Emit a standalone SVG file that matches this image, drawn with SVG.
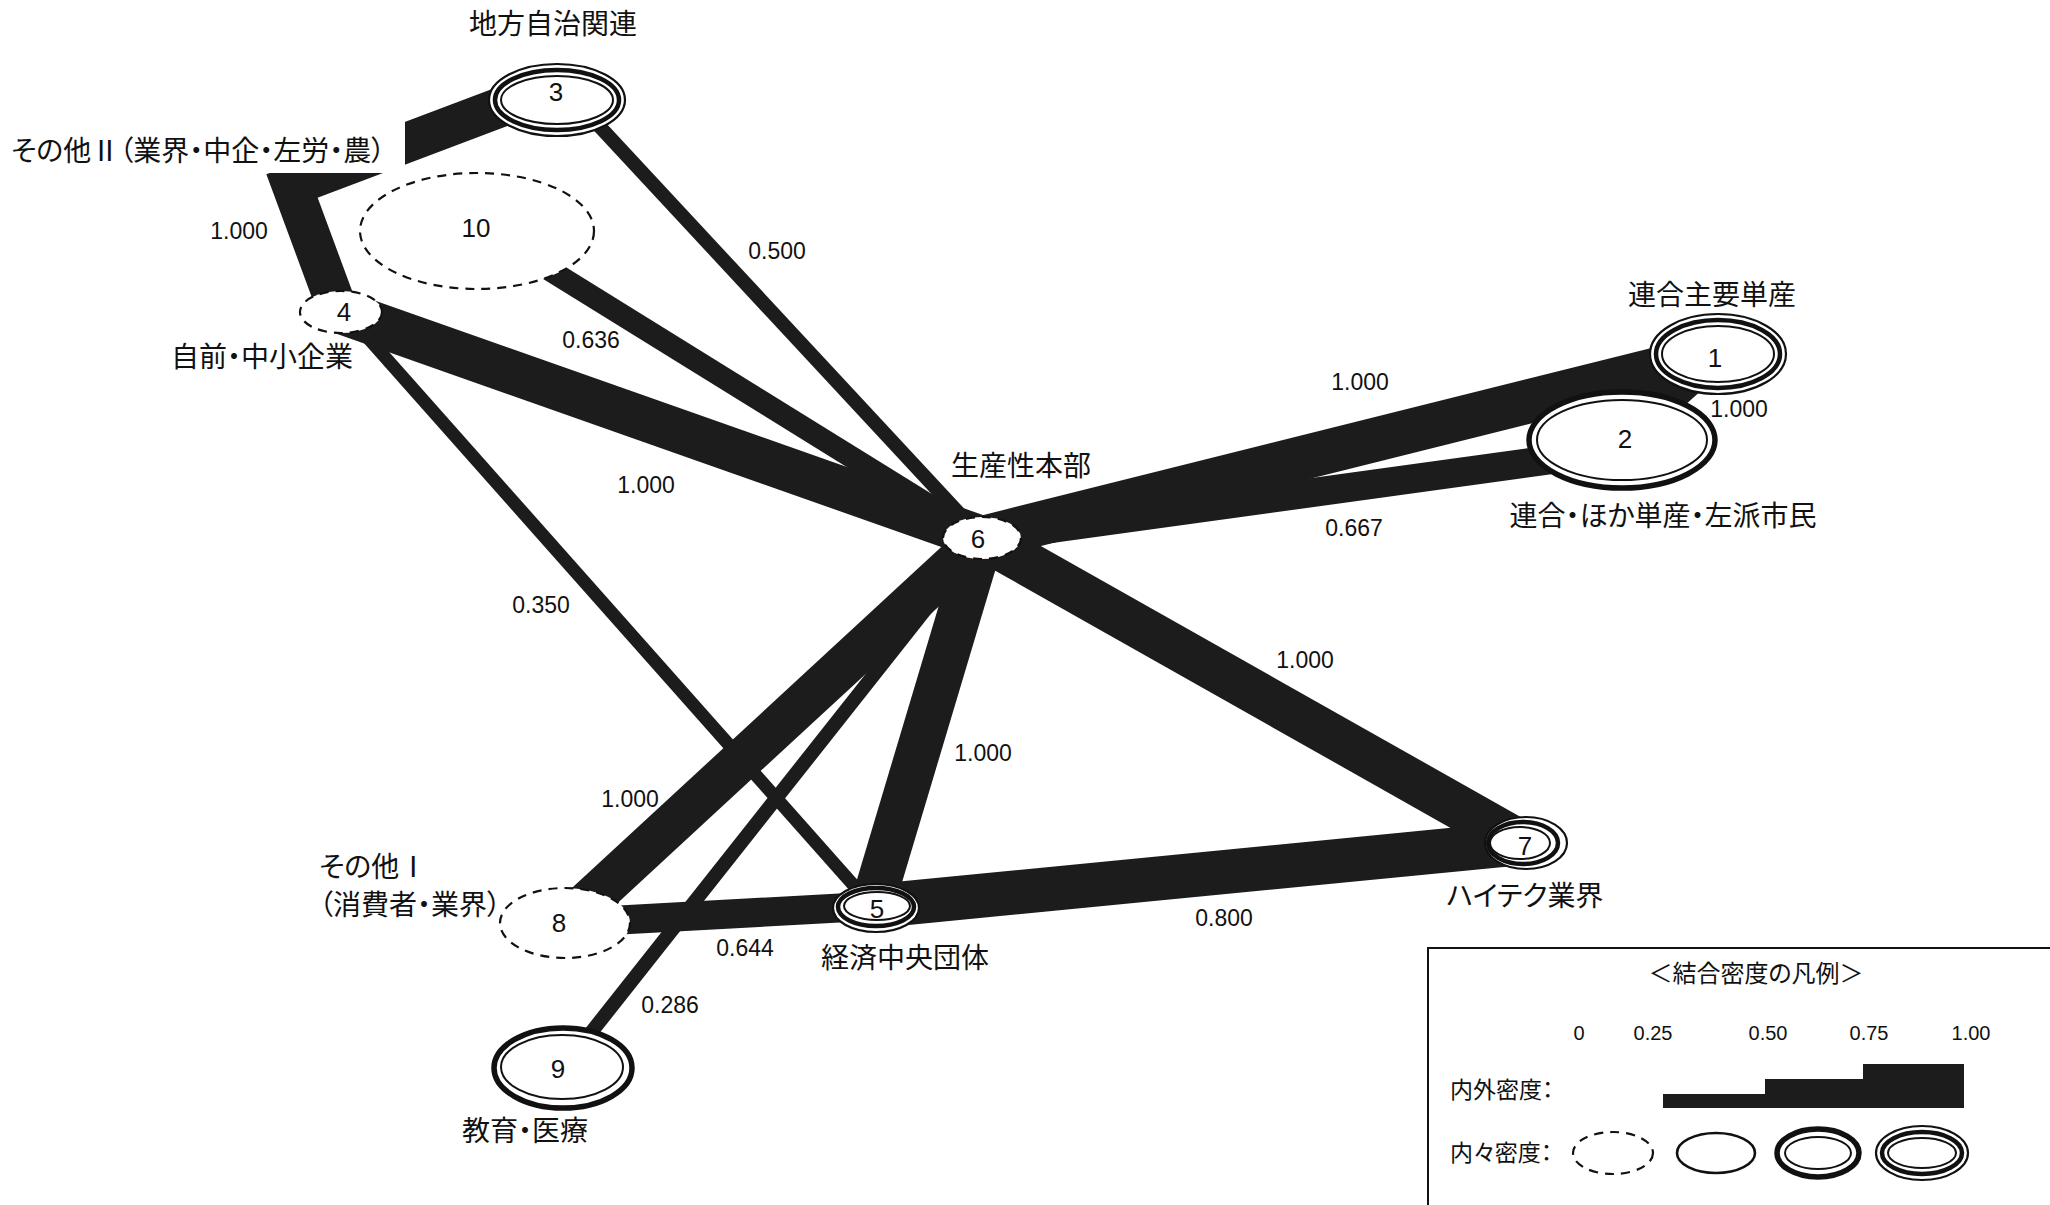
<svg xmlns="http://www.w3.org/2000/svg" width="2050" height="1205" viewBox="0 0 2050 1205">
<style>
  .band { stroke: #1c1c1c; fill: none; stroke-linecap: butt; stroke-linejoin: miter; }
  .w44 { stroke-width: 44; }
  .w42 { stroke-width: 42; }
  .w40 { stroke-width: 40; }
  .w32 { stroke-width: 32; }
  .w29 { stroke-width: 29; }
  .w22 { stroke-width: 22; }
  .w14 { stroke-width: 14; }
  .w13 { stroke-width: 13; }
  .dash { fill: #fff; stroke: #111; stroke-width: 2.2; stroke-dasharray: 9 7; }
  .plain { fill: #fff; stroke: #111; stroke-width: 2.6; }
  .outer { fill: #fff; stroke: #111; stroke-width: 2.2; }
  .heavy { fill: #fff; stroke: #111; stroke-width: 5.5; }
  .mid { fill: none; stroke: #111; stroke-width: 4.5; }
  .thin { fill: none; stroke: #111; stroke-width: 2; }
  .lbl { font-family: "Noto Sans CJK JP", "Noto Sans CJK SC", sans-serif; font-size: 28px; fill: #111; font-feature-settings: "palt"; }
  .mid-a { text-anchor: middle; }
  .num { font-family: "Liberation Sans", Arial, sans-serif; font-size: 23px; fill: #111; text-anchor: middle; }
  .id { font-family: "Liberation Sans", Arial, sans-serif; font-size: 26px; fill: #111; text-anchor: middle; }
  .leg { font-family: "Liberation Sans", Arial, sans-serif; font-size: 20px; fill: #111; text-anchor: middle; }
</style>

<rect x="0" y="0" width="2050" height="1205" fill="#fff"/>

<!-- links between groups; stroke width follows the link density class -->
<g id="connectors">
  <polyline id="e3-4" class="band w40" points="557,86 292,186 336,305"/>
  <line id="e4-6" class="band w44" x1="341" y1="312" x2="982" y2="538"/>
  <line id="e10-6" class="band w22" x1="477" y1="225" x2="982" y2="538"/>
  <line id="e3-6" class="band w14" x1="575" y1="100" x2="982" y2="538"/>
  <line id="e4-5" class="band w13" x1="345" y1="312" x2="872" y2="906"/>
  <line id="e6-1" class="band w44" x1="982" y1="538" x2="1718" y2="354"/>
  <line id="e6-2" class="band w29" x1="982" y1="538" x2="1622" y2="450"/>
  <line id="e1-2" class="band w32" x1="1718" y1="354" x2="1622" y2="440"/>
  <line id="e6-7" class="band w44" x1="982" y1="538" x2="1522" y2="843"/>
  <line id="e6-5" class="band w44" x1="982" y1="538" x2="872" y2="906"/>
  <line id="e6-8" class="band w42" x1="982" y1="538" x2="565" y2="923"/>
  <line id="e6-9" class="band w14" x1="982" y1="538" x2="563" y2="1068"/>
  <line id="e8-5" class="band w29" x1="565" y1="923" x2="876" y2="906"/>
  <line id="e5-7" class="band w44" x1="876" y1="906" x2="1522" y2="843"/>
</g>

<!-- group 10 caption sits on a white plate over the 3-4 link -->
<rect x="0" y="118" width="405" height="55" fill="#fff"/>

<g id="node10">
  <ellipse class="dash" cx="477" cy="231" rx="117" ry="58"/>
  <text class="id" x="476" y="237">10</text>
  <text class="lbl" x="11" y="161">その他Ⅱ（業界・中企・左労・農）</text>
</g>

<g id="node3">
  <ellipse class="outer" cx="557" cy="100" rx="68" ry="36"/>
  <ellipse class="mid" cx="557" cy="100" rx="62" ry="30"/>
  <ellipse class="thin" cx="557" cy="100" rx="56" ry="24"/>
  <text class="id" x="556" y="101">3</text>
  <text class="lbl mid-a" x="553" y="34">地方自治関連</text>
</g>

<g id="node4">
  <ellipse class="dash" cx="341" cy="312" rx="41" ry="21"/>
  <text class="id" x="344" y="321">4</text>
  <text class="lbl mid-a" x="262" y="367">自前・中小企業</text>
</g>

<g id="node2">
  <ellipse class="heavy" cx="1622" cy="440" rx="93" ry="48"/>
  <ellipse class="thin" cx="1622" cy="440" rx="85" ry="40"/>
  <text class="id" x="1625" y="448">2</text>
  <text class="lbl mid-a" x="1663" y="526">連合・ほか単産・左派市民</text>
</g>

<g id="node1">
  <ellipse class="outer" cx="1718" cy="354" rx="68" ry="40"/>
  <ellipse class="mid" cx="1718" cy="354" rx="62" ry="34"/>
  <ellipse class="thin" cx="1718" cy="354" rx="56" ry="28"/>
  <text class="id" x="1715" y="367">1</text>
  <text class="lbl mid-a" x="1712" y="305">連合主要単産</text>
</g>

<g id="node6">
  <ellipse class="dash" cx="982" cy="538" rx="39" ry="21"/>
  <text class="id" x="978" y="548">6</text>
  <text class="lbl mid-a" x="1021" y="476">生産性本部</text>
</g>

<g id="node5">
  <ellipse class="outer" cx="876" cy="908" rx="43" ry="24"/>
  <ellipse class="mid" cx="876" cy="907" rx="38" ry="19"/>
  <ellipse class="thin" cx="877" cy="906" rx="33" ry="14"/>
  <text class="id" x="877" y="918">5</text>
  <text class="lbl mid-a" x="905" y="968">経済中央団体</text>
</g>

<g id="node7">
  <ellipse class="outer" cx="1526" cy="843" rx="41" ry="26"/>
  <ellipse class="mid" cx="1523" cy="843" rx="35" ry="21"/>
  <ellipse class="thin" cx="1520" cy="843" rx="30" ry="16"/>
  <text class="id" x="1525" y="855">7</text>
  <text class="lbl mid-a" x="1525" y="906">ハイテク業界</text>
</g>

<g id="node8">
  <ellipse class="dash" cx="565" cy="923" rx="65" ry="35"/>
  <text class="id" x="559" y="932">8</text>
  <text class="lbl" x="319" y="877">その他Ⅰ</text>
  <text class="lbl" x="319" y="915">（消費者・業界）</text>
</g>

<g id="node9">
  <ellipse class="heavy" cx="563" cy="1068" rx="69" ry="40"/>
  <ellipse class="thin" cx="562" cy="1067" rx="61" ry="32"/>
  <text class="id" x="558" y="1078">9</text>
  <text class="lbl mid-a" x="525" y="1141">教育・医療</text>
</g>

<!-- link density values -->
<g id="values">
  <text class="num" x="239" y="239">1.000</text>
  <text class="num" x="777" y="259">0.500</text>
  <text class="num" x="591" y="348">0.636</text>
  <text class="num" x="646" y="493">1.000</text>
  <text class="num" x="541" y="613">0.350</text>
  <text class="num" x="1360" y="390">1.000</text>
  <text class="num" x="1739" y="417">1.000</text>
  <text class="num" x="1354" y="536">0.667</text>
  <text class="num" x="1305" y="668">1.000</text>
  <text class="num" x="983" y="761">1.000</text>
  <text class="num" x="630" y="807">1.000</text>
  <text class="num" x="745" y="956">0.644</text>
  <text class="num" x="1224" y="926">0.800</text>
  <text class="num" x="670" y="1013">0.286</text>
</g>

<!-- legend -->
<g id="legend">
  <path d="M1428,1205 V948 H2050" fill="none" stroke="#111" stroke-width="2"/>
  <text class="lbl mid-a" x="1756" y="982" style="font-size:24px">＜結合密度の凡例＞</text>
  <text class="leg" x="1579" y="1040">0</text>
  <text class="leg" x="1653" y="1040">0.25</text>
  <text class="leg" x="1768" y="1040">0.50</text>
  <text class="leg" x="1869" y="1040">0.75</text>
  <text class="leg" x="1971" y="1040">1.00</text>
  <text class="lbl" x="1450" y="1098" style="font-size:23px">内外密度：</text>
  <path d="M1663,1108 V1094 H1765 V1079 H1863 V1064 H1964 V1108 Z" fill="#1c1c1c"/>
  <text class="lbl" x="1450" y="1161" style="font-size:23px">内々密度：</text>
  <ellipse class="dash" cx="1613" cy="1153" rx="40" ry="21"/>
  <ellipse class="plain" cx="1716" cy="1153" rx="39" ry="20"/>
  <ellipse class="heavy" cx="1818" cy="1153" rx="41" ry="24"/>
  <ellipse class="thin" cx="1818" cy="1153" rx="33" ry="16"/>
  <ellipse class="outer" cx="1922" cy="1153" rx="46" ry="27"/>
  <ellipse class="mid" cx="1922" cy="1153" rx="40" ry="21"/>
  <ellipse class="thin" cx="1922" cy="1153" rx="34" ry="15"/>
</g>
</svg>
